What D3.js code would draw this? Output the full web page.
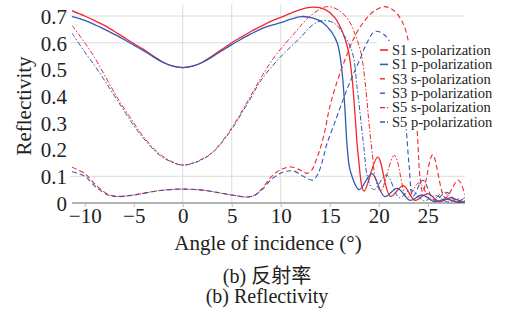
<!DOCTYPE html>
<html>
<head>
<meta charset="utf-8">
<script src="https://cdn.jsdelivr.net/npm/d3@7/dist/d3.min.js"></script>
<style>
  body { margin: 0; background: #fff; }
  svg { display: block; }
</style>
</head>
<body>
<div id="chart"></div>
<script>
// tick values and grid lines
const xTicks = [-10, -5, 0, 5, 10, 15, 20, 25];
const yTicks = [0, 0.1, 0.2, 0.3, 0.4, 0.5, 0.6, 0.7];
const xGrid = [0, 5, 10];
const yGrid = [0.1, 0.6, 0.7];

const seriesNames = ['S1 s-polarization', 'S1 p-polarization', 'S3 s-polarization',
  'S3 p-polarization', 'S5 s-polarization', 'S5 p-polarization'];

// [angle of incidence, reflectivity]
const s1s = [[-11.3,0.72],[-10,0.70],[-9,0.683],[-8,0.665],[-7,0.643],[-6,0.62],[-5,0.597],[-4,0.575],[-3,0.55],[-2,0.527],[-1,0.512],[0,0.507],[1,0.512],[2,0.527],[3,0.55],[4,0.575],[5,0.6],[6,0.622],[7,0.643],[8,0.662],[9,0.68],[10,0.695],[11,0.71],[12,0.724],[13.3,0.733],[14.5,0.725],[15.5,0.695],[16.3,0.64],[16.9,0.57],[17.3,0.46],[17.6,0.32],[17.9,0.18],[18.5,0.045],[19.9,0.172],[21.2,0.025],[22.5,0.065],[23.7,0.01],[25.0,0.035],[26.2,0.005],[27.4,0.02],[28.5,0.003],[28.8,0.006]];
const s1p = [[-11.3,0.698],[-10,0.684],[-9,0.668],[-8,0.651],[-7,0.632],[-6,0.612],[-5,0.591],[-4,0.57],[-3,0.547],[-2,0.526],[-1,0.512],[0,0.507],[1,0.512],[2,0.526],[3,0.547],[4,0.57],[5,0.593],[6,0.614],[7,0.634],[8,0.652],[9,0.665],[10,0.675],[11,0.688],[12.1,0.698],[13.3,0.692],[14.3,0.675],[15.2,0.64],[15.8,0.595],[16.2,0.51],[16.5,0.38],[16.8,0.2],[17.1,0.12],[18.0,0.05],[19.3,0.11],[20.6,0.024],[21.9,0.055],[23.2,0.01],[24.4,0.03],[25.7,0.005],[26.9,0.015],[28.1,0.002],[28.8,0.006]];
const s3s = [[-11.3,0.134],[-10,0.11],[-8.8,0.065],[-7.6,0.032],[-6.6,0.025],[-5,0.03],[-3,0.043],[-1.5,0.05],[0,0.052],[1.5,0.05],[3,0.043],[5,0.03],[7,0.024],[8,0.05],[9,0.097],[10,0.125],[11.1,0.135],[12,0.123],[12.7,0.111],[13.2,0.125],[13.6,0.16],[14.0,0.2],[14.5,0.27],[15.0,0.36],[15.8,0.46],[16.7,0.55],[17.5,0.62],[18.4,0.675],[19.5,0.718],[20.6,0.735],[21.5,0.722],[22.3,0.685],[22.8,0.64],[23.3,0.54],[23.7,0.4],[24.0,0.22],[24.2,0.1],[24.5,0.04],[25.5,0.18],[26.8,0.02],[28.1,0.086],[28.8,0.03]];
const s3p = [[-11.3,0.117],[-10,0.1],[-8.8,0.058],[-7.6,0.03],[-6.6,0.024],[-5,0.03],[-3,0.043],[-1.5,0.05],[0,0.052],[1.5,0.05],[3,0.043],[5,0.03],[7,0.024],[8,0.047],[9.1,0.09],[10.2,0.115],[11.3,0.12],[12.3,0.1],[13.3,0.086],[13.8,0.11],[14.2,0.15],[14.7,0.22],[15.5,0.3],[16.35,0.386],[17.2,0.465],[18.06,0.536],[18.8,0.6],[19.6,0.642],[20.5,0.632],[21.3,0.59],[22.0,0.51],[22.5,0.4],[22.8,0.28],[23.1,0.14],[23.5,0.025],[24.5,0.085],[25.7,0.01],[26.9,0.04],[28.0,0.005],[28.8,0.02]];
const s5s = [[-11.3,0.665],[-10,0.6],[-9,0.545],[-8,0.48],[-6.6,0.39],[-5,0.3],[-4,0.248],[-2.4,0.185],[-1,0.153],[0,0.142],[1.2,0.152],[2.9,0.186],[4.6,0.26],[6.7,0.386],[8,0.47],[9.4,0.549],[11.4,0.636],[13,0.7],[14.7,0.735],[16,0.72],[17,0.68],[17.6,0.63],[18.2,0.56],[18.7,0.42],[19.0,0.3],[19.3,0.2],[19.7,0.085],[20.2,0.045],[21.6,0.178],[22.9,0.02],[24.1,0.075],[25.4,0.01],[26.6,0.04],[27.8,0.005],[28.8,0.02]];
const s5p = [[-11.3,0.636],[-10,0.565],[-9,0.515],[-8,0.46],[-6.6,0.38],[-5,0.29],[-4,0.242],[-2.4,0.18],[-1,0.151],[0,0.142],[1.2,0.15],[2.9,0.184],[4.6,0.255],[6.7,0.378],[8,0.46],[9.7,0.536],[12.1,0.623],[13.2,0.665],[14.3,0.683],[15.5,0.672],[16.5,0.625],[17.3,0.565],[17.8,0.43],[18.2,0.3],[18.5,0.2],[18.9,0.09],[19.5,0.05],[20.8,0.105],[22.1,0.02],[23.3,0.05],[24.6,0.008],[25.8,0.028],[27.0,0.004],[28.2,0.015],[28.8,0.008]];

const seriesData = [s1s, s1p, s3s, s3p, s5s, s5p];

const serif = '"Liberation Serif", "DejaVu Serif", serif';
const red = '#f2262b';
const blue = '#2f5bb5';
const styles = [
  { color: red,  width: 1.3, dash: null },
  { color: blue, width: 1.3, dash: null },
  { color: red,  width: 1.1, dash: '5,3' },
  { color: blue, width: 1.1, dash: '5,3' },
  { color: red,  width: 1,   dash: '5,2,1.5,2' },
  { color: blue, width: 1,   dash: '5,2,1.5,2' }
];

const W = 510, H = 320;
const plot = { left: 72, right: 465, top: 4, bottom: 203 };

const svg = d3.select('#chart').append('svg')
  .attr('width', W).attr('height', H);

const x = d3.scaleLinear().domain([-11.3, 28.8]).range([plot.left, plot.right]);
const y = d3.scaleLinear().domain([0, 0.745]).range([plot.bottom, plot.top]);

// grid
svg.append('g').selectAll('line').data(yGrid).enter().append('line')
  .attr('x1', plot.left - 2).attr('x2', plot.right)
  .attr('y1', d => y(d)).attr('y2', d => y(d))
  .attr('stroke', '#dcdcdc').attr('stroke-width', 1);
svg.append('g').selectAll('line').data(xGrid).enter().append('line')
  .attr('x1', d => x(d)).attr('x2', d => x(d))
  .attr('y1', plot.top).attr('y2', plot.bottom)
  .attr('stroke', '#dcdcdc').attr('stroke-width', 1);

// x axis
const xAxis = svg.append('g')
  .attr('transform', `translate(0,${plot.bottom})`)
  .call(d3.axisBottom(x).tickValues(xTicks).tickSize(4).tickPadding(1).tickFormat(d3.format('d')));
xAxis.select('.domain').attr('stroke', '#666').attr('d', `M${plot.left},0H${plot.right}`);
xAxis.selectAll('.tick line').attr('stroke', '#bbb');
xAxis.selectAll('text').style('font-size', '21px');

// y axis
const yAxis = svg.append('g')
  .attr('transform', `translate(${plot.left},0)`)
  .call(d3.axisLeft(y).tickValues(yTicks).tickSize(0).tickPadding(5)
    .tickFormat(d => d === 0 ? '0' : d3.format('.1f')(d)));
yAxis.select('.domain').remove();
yAxis.selectAll('text').style('font-size', '21px').attr('dy', '0.35em');

// curves
svg.append('clipPath').attr('id', 'clip').append('rect')
  .attr('x', plot.left).attr('y', plot.top - 2)
  .attr('width', plot.right - plot.left).attr('height', plot.bottom - plot.top + 2);

const line = d3.line()
  .x(d => x(d[0])).y(d => y(d[1]))
  .curve(d3.curveCatmullRom.alpha(0.5));

svg.append('g').attr('clip-path', 'url(#clip)')
  .selectAll('path').data(seriesData).enter().append('path')
  .attr('d', line)
  .attr('fill', 'none')
  .attr('stroke', (d, i) => styles[i].color)
  .attr('stroke-width', (d, i) => styles[i].width)
  .attr('stroke-dasharray', (d, i) => styles[i].dash);

// legend
const legend = svg.append('g');
legend.append('rect').attr('x', 377).attr('y', 41).attr('width', 130).attr('height', 88).attr('fill', '#fff');
const rowY = i => 50 + i * 14.4;
legend.selectAll('line').data(seriesNames).enter().append('line')
  .attr('x1', 380).attr('x2', 388)
  .attr('y1', (d, i) => rowY(i)).attr('y2', (d, i) => rowY(i))
  .attr('stroke', (d, i) => styles[i].color)
  .attr('stroke-width', (d, i) => styles[i].width + 0.3)
  .attr('stroke-dasharray', (d, i) => styles[i].dash);
legend.selectAll('text').data(seriesNames).enter().append('text')
  .attr('x', 392).attr('y', (d, i) => rowY(i)).attr('dy', '0.33em')
  .style('font-size', '14.5px')
  .text(d => d);

// titles
svg.append('text').attr('x', 268).attr('y', 250).attr('text-anchor', 'middle')
  .style('font-size', '21px').text('Angle of incidence (°)');
svg.append('text').attr('transform', 'translate(31,106) rotate(-90)').attr('text-anchor', 'middle')
  .style('font-size', '21px').text('Reflectivity');
svg.append('text').attr('x', 267).attr('y', 283).attr('text-anchor', 'middle')
  .style('font-size', '20px').text('(b) 反射率');
svg.append('text').attr('x', 267).attr('y', 303).attr('text-anchor', 'middle')
  .style('font-size', '20px').text('(b) Reflectivity');

svg.selectAll('text')
  .style('font-family', serif + ', "Noto Sans CJK SC"')
  .attr('fill', '#222');
</script>
</body>
</html>
